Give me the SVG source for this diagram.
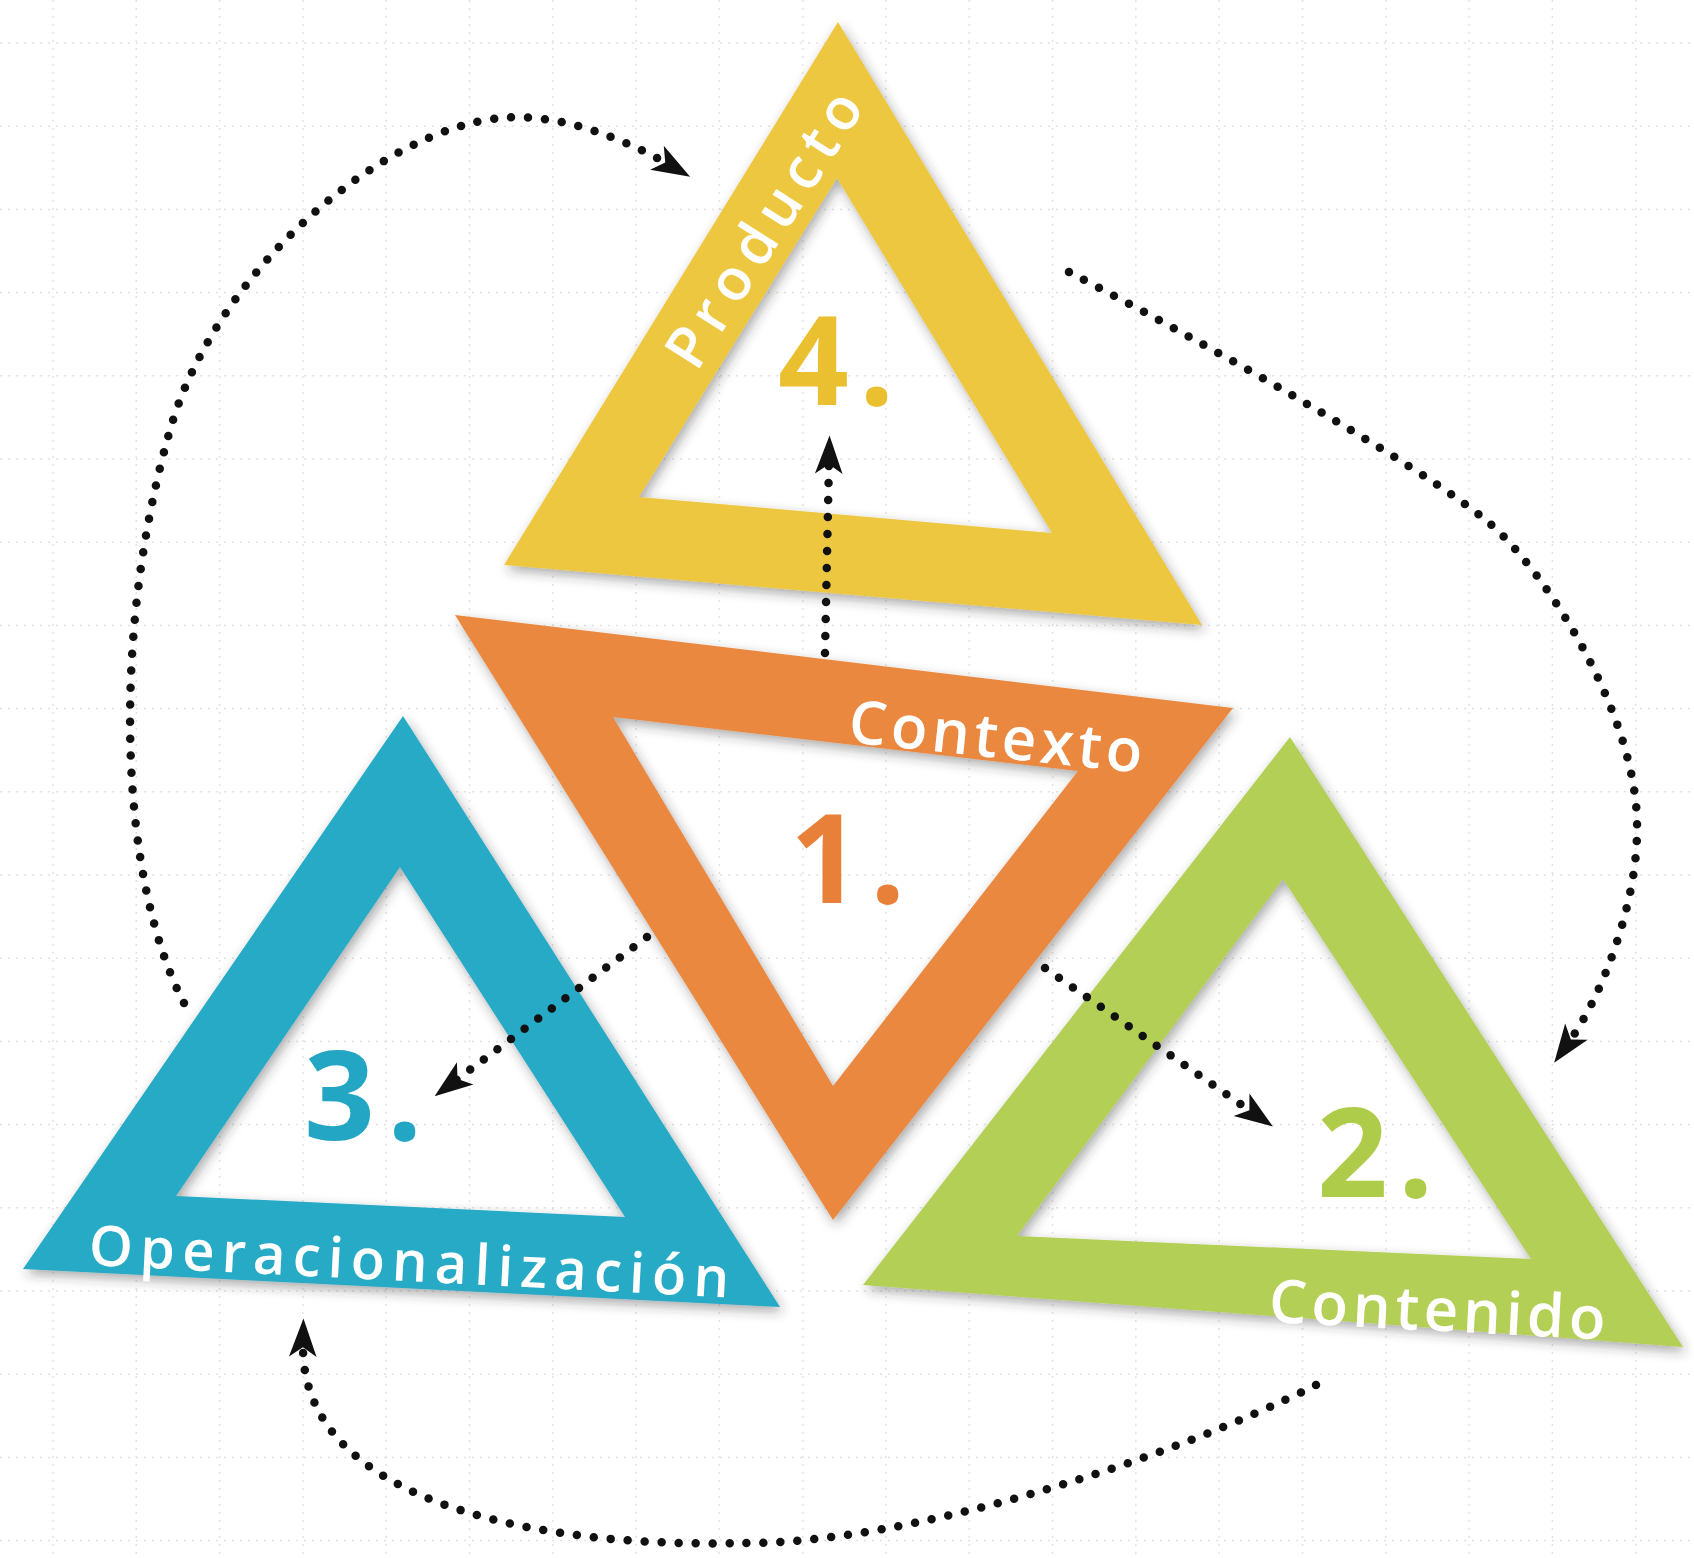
<svg xmlns="http://www.w3.org/2000/svg" width="1694" height="1558" viewBox="0 0 1694 1558">
<style>
.grid{fill:none;stroke:#e3e3e3;stroke-width:1.5;stroke-dasharray:2 6}
.tri{fill-rule:evenodd;filter:url(#sh)}
.lbl{font-family:"Open Sans","Noto Sans","Liberation Sans",sans-serif;font-weight:600;fill:#ffffff}
.num{font-family:"Open Sans","Noto Sans","Liberation Sans",sans-serif;font-weight:700;font-size:124px}
.dots{fill:none;stroke:#111;stroke-width:8.5;stroke-linecap:round;stroke-dasharray:0 17;marker-end:url(#ah)}
</style>
<defs>
<filter id="sh" x="-15%" y="-15%" width="135%" height="135%">
<feDropShadow dx="3" dy="5" stdDeviation="6" flood-color="#333" flood-opacity="0.4"/>
</filter>
<marker id="ah" markerUnits="userSpaceOnUse" markerWidth="48" markerHeight="34" refX="0" refY="0" viewBox="-16 -16 44 32" orient="auto" overflow="visible">
<path d="M24,0 L-12,-13 L-3,0 L-12,13 Z" fill="#111"/>
</marker>
</defs>
<rect width="1694" height="1558" fill="#ffffff"/>
<path class="grid" d="M53,0V1558M136.3,0V1558M219.6,0V1558M302.9,0V1558M386.2,0V1558M469.5,0V1558M552.8,0V1558M636.1,0V1558M719.4,0V1558M802.7,0V1558M886,0V1558M969.3,0V1558M1052.6,0V1558M1135.9,0V1558M1219.2,0V1558M1302.5,0V1558M1385.8,0V1558M1469.1,0V1558M1552.4,0V1558M1635.7,0V1558M0,43H1694M0,126.2H1694M0,209.4H1694M0,292.6H1694M0,375.8H1694M0,459H1694M0,542.2H1694M0,625.4H1694M0,708.6H1694M0,791.8H1694M0,875H1694M0,958.2H1694M0,1041.4H1694M0,1124.6H1694M0,1207.8H1694M0,1291H1694M0,1374.2H1694M0,1457.4H1694M0,1540.6H1694"/>

<g id="node-producto">
<path class="tri" fill="#EEC73F" d="M838,22 L1202,625 L504,565 Z M837,178 L639,497 L1052,533 Z"/>
<text class="lbl" font-size="58" text-anchor="middle" textLength="315" lengthAdjust="spacing" transform="translate(781,240) rotate(-57.5)">Producto</text>
<text class="num" fill="#EBC030" x="778" y="405" letter-spacing="10">4.</text>
</g>

<g id="node-contexto">
<path class="tri" fill="#EA8840" d="M455,615 L1233,708 L833,1220 Z M613,717 L1078,771 L833,1086 Z"/>
<text class="lbl" font-size="60" textLength="295" lengthAdjust="spacing" transform="translate(847,742) rotate(6)">Contexto</text>
<text class="num" fill="#E8803A" x="790" y="903" letter-spacing="9">1.</text>
</g>

<g id="node-operacionalizacion">
<path class="tri" fill="#27AAC6" d="M403,716 L780,1307 L23,1269 Z M400,867 L176,1196 L625,1217 Z"/>
<text class="lbl" font-size="56" textLength="641" lengthAdjust="spacing" transform="translate(88,1265) rotate(2.9)">Operacionalización</text>
<text class="num" fill="#22A6C4" x="304" y="1140" letter-spacing="12">3.</text>
</g>

<g id="node-contenido">
<path class="tri" fill="#B4CF55" d="M1290,737 L1683,1347 L863,1285 Z M1283,879 L1017,1236 L1531,1259 Z"/>
<text class="lbl" font-size="60" textLength="337" lengthAdjust="spacing" transform="translate(1268,1322) rotate(3)">Contenido</text>
<text class="num" fill="#AFCB4A" x="1317" y="1197" letter-spacing="10">2.</text>
</g>

<g id="connectors">
<path class="dots" d="M825,653 L829,461"/>
<path class="dots" d="M647,937 L455,1081"/>
<path class="dots" d="M1045,968 L1252,1112"/>
<path class="dots" d="M184,1003 C120,880 110,640 170,430 C215,272 380,130 500,118 C560,112 626,140 668,164"/>
<path class="dots" d="M1069,272 C1200,340 1420,465 1487,521 C1547,571 1640,720 1637,831 C1637,901 1604,993 1569,1042"/>
<path class="dots" d="M1316,1385 C1156,1465 900,1545 741,1543 C560,1548 300,1510 303,1344"/>
</g>
</svg>
